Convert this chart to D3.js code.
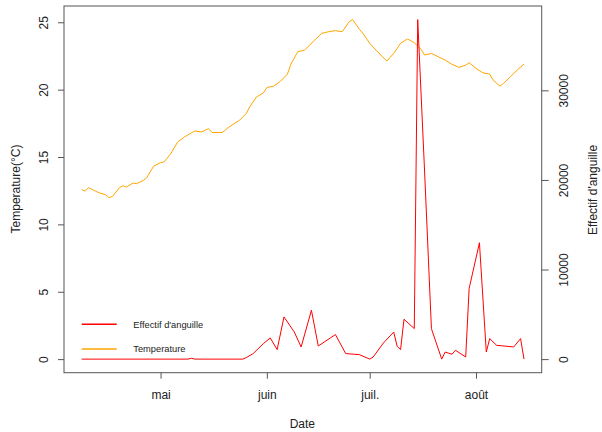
<!DOCTYPE html>
<html>
<head>
<meta charset="utf-8">
<script src="https://cdnjs.cloudflare.com/ajax/libs/d3/7.8.5/d3.min.js"></script>
<style>
body { margin: 0; background: #fff; }
text { font-family: "Liberation Sans", Arial, sans-serif; fill: #222; }
</style>
</head>
<body>
<svg id="chart" width="602" height="432"></svg>
<script>
var tempDates = ["2019-04-08","2019-04-09","2019-04-10","2019-04-12","2019-04-13","2019-04-15","2019-04-16","2019-04-17",
    "2019-04-19","2019-04-20","2019-04-21","2019-04-23","2019-04-24","2019-04-26","2019-04-27","2019-04-29",
    "2019-05-01","2019-05-02","2019-05-04","2019-05-06","2019-05-08","2019-05-10","2019-05-11","2019-05-13","2019-05-15",
    "2019-05-16","2019-05-19","2019-05-21","2019-05-24","2019-05-26","2019-05-27","2019-05-29","2019-05-31",
    "2019-06-01","2019-06-03","2019-06-05","2019-06-07","2019-06-08","2019-06-10","2019-06-12","2019-06-15",
    "2019-06-17","2019-06-19","2019-06-21","2019-06-23","2019-06-25","2019-06-26","2019-06-28","2019-06-29",
    "2019-07-01","2019-07-03","2019-07-06","2019-07-08","2019-07-10","2019-07-12","2019-07-14","2019-07-16",
    "2019-07-17","2019-07-19","2019-07-21","2019-07-23","2019-07-25","2019-07-27","2019-07-29","2019-07-30",
    "2019-08-01","2019-08-03","2019-08-05","2019-08-06","2019-08-08","2019-08-09","2019-08-11","2019-08-13","2019-08-15"];
var tempValues = [12.58,12.47,12.72,12.47,12.35,12.20,11.98,12.08,
    12.72,12.87,12.77,13.07,13.02,13.27,13.47,14.33,
    14.58,14.63,15.25,16.12,16.49,16.79,16.93,16.86,17.11,
    16.82,16.82,17.23,17.73,18.23,18.72,19.46,19.76,
    20.16,20.26,20.63,21.15,21.88,22.81,22.94,23.68,
    24.18,24.30,24.38,24.30,25.04,25.20,24.48,24.18,
    23.44,22.89,22.12,22.69,23.44,23.76,23.48,22.99,
    22.57,22.69,22.44,22.19,21.88,21.65,21.82,22.00,
    21.58,21.25,21.15,20.71,20.26,20.46,20.95,21.45,21.90];

var effDates = ["2019-04-08","2019-05-09","2019-05-10","2019-05-11","2019-05-25","2019-05-26","2019-05-28","2019-05-31",
    "2019-06-02","2019-06-04","2019-06-06","2019-06-09","2019-06-11","2019-06-14","2019-06-16","2019-06-21",
    "2019-06-24","2019-06-28","2019-07-01","2019-07-02","2019-07-05","2019-07-08","2019-07-09","2019-07-10",
    "2019-07-11","2019-07-14","2019-07-15","2019-07-17","2019-07-19","2019-07-22","2019-07-23","2019-07-25",
    "2019-07-26","2019-07-29","2019-07-30","2019-08-02","2019-08-04","2019-08-05","2019-08-07","2019-08-12",
    "2019-08-14","2019-08-15"];
var effValues = [0,0,90,0,0,170,615,1735,
    2360,1060,4710,3030,1350,5460,1465,2740,
    615,500,0,235,1800,3030,1430,1060,
    4450,3410,37900,21000,3400,0,790,540,
    985,235,7890,12990,795,2290,1545,1355,
    2290,0];

var monthTicks = ["2019-05-01","2019-06-01","2019-07-01","2019-08-01"];
var monthLabels = ["mai","juin","juil.","août"];
var tempTicks = [0,5,10,15,20,25];
var effTicks = [0,10000,20000,30000];
var legendLabels = ["Effectif d'anguille","Temperature"];
var legendColors = ["red","orange"];

function padR(ext){
    // same as R: data range widened by 4% on each side
    var r = ext[1] - ext[0];
    return [ext[0] - 0.04*r, ext[1] + 0.04*r];
}

function makeChart(){
    var svg = d3.select("#chart");
    var left = 64, right = 541.7, top = 6, bottom = 372.7;
    var axisCol = "#555";
    var parse = d3.timeParse("%Y-%m-%d");

    var temp = tempDates.map((d,i) => [parse(d), tempValues[i]]);
    var eff = effDates.map((d,i) => [parse(d), effValues[i]]);

    var xr = padR(d3.extent(temp, d => +d[0]));
    var scX = d3.scaleTime().domain([new Date(xr[0]), new Date(xr[1])]).range([left, right]);
    var scY1 = d3.scaleLinear().domain(padR([0, d3.max(tempValues)])).range([bottom, top]);
    var scY2 = d3.scaleLinear().domain(padR([0, d3.max(effValues)])).range([bottom, top]);

    var lineTemp = d3.line().x(d => scX(d[0])).y(d => scY1(d[1]));
    var lineEff = d3.line().x(d => scX(d[0])).y(d => scY2(d[1]));

    svg.append("path")
        .attr("fill","none").attr("stroke","orange").attr("stroke-width",1)
        .attr("d", lineTemp(temp));
    svg.append("path")
        .attr("fill","none").attr("stroke","red").attr("stroke-width",1)
        .attr("stroke-linejoin","round")
        .attr("d", lineEff(eff));

    // left axis
    var yAxis = svg.append("g")
        .attr("transform","translate(" + left + ",0)")
        .call(d3.axisLeft(scY1).tickValues(tempTicks).tickSize(6).tickSizeOuter(0))
        .attr("font-size",12);
    yAxis.select(".domain").remove();
    yAxis.selectAll(".tick line").attr("stroke",axisCol);
    yAxis.selectAll(".tick text")
        .attr("transform","rotate(-90)")
        .attr("x",0).attr("y",-16.2).attr("dy",0)
        .attr("text-anchor","middle");

    // right axis
    var y2Axis = svg.append("g")
        .attr("transform","translate(" + right + ",0)")
        .call(d3.axisRight(scY2).tickValues(effTicks).tickFormat(d3.format("d")).tickSize(7).tickSizeOuter(0))
        .attr("font-size",12);
    y2Axis.select(".domain").remove();
    y2Axis.selectAll(".tick line").attr("stroke",axisCol);
    y2Axis.selectAll(".tick text")
        .attr("transform","rotate(-90)")
        .attr("x",0).attr("y",26.6).attr("dy",0)
        .attr("text-anchor","middle");

    // bottom axis
    var xAxis = svg.append("g")
        .attr("transform","translate(0," + bottom + ")")
        .call(d3.axisBottom(scX).tickValues(monthTicks.map(parse))
            .tickFormat((d,i) => monthLabels[i]).tickSize(6).tickSizeOuter(0))
        .attr("font-size",12);
    xAxis.select(".domain").remove();
    xAxis.selectAll(".tick line").attr("stroke",axisCol);
    xAxis.selectAll(".tick text").attr("y",26.6).attr("dy",0);

    svg.append("rect")
        .attr("x",left).attr("y",top)
        .attr("width",right-left).attr("height",bottom-top)
        .attr("fill","none").attr("stroke",axisCol).attr("stroke-width",1);

    // titles
    svg.append("text")
        .attr("x",(left+right)/2 - 0.5).attr("y",427.5)
        .attr("text-anchor","middle").style("font-size","12px")
        .text("Date");
    svg.append("text")
        .attr("transform","translate(20.3," + 189 + ") rotate(-90)")
        .attr("text-anchor","middle").style("font-size","12px")
        .text("Temperature(°C)");
    svg.append("text")
        .attr("transform","translate(597," + 190 + ") rotate(-90)")
        .attr("text-anchor","middle").style("font-size","12px")
        .text("Effectif d'anguille");

    // legend
    var legend = svg.append("g").selectAll("g")
        .data(legendLabels).enter().append("g")
        .attr("transform",(d,i) => "translate(0," + (324.3 + i*24.7) + ")");
    legend.append("line")
        .attr("x1",81.7).attr("x2",116.7)
        .attr("stroke",(d,i) => legendColors[i]).attr("stroke-width",1.5);
    legend.append("text")
        .attr("x",133.3).attr("dy","0.35em")
        .style("font-size","9.3px")
        .text(d => d);
}

makeChart();
</script>
</body>
</html>
